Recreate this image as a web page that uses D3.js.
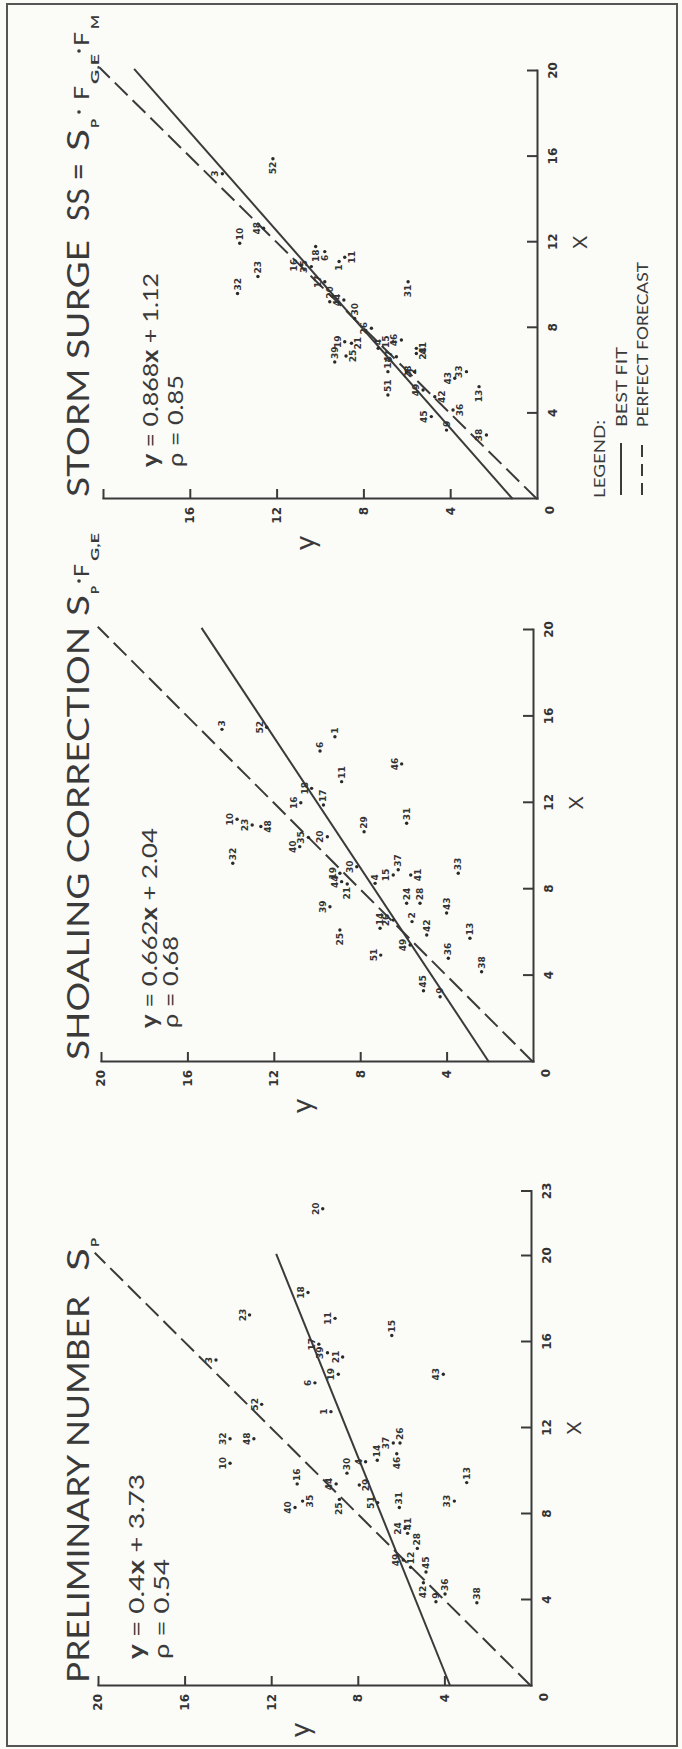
<!DOCTYPE html>
<html>
<head>
<meta charset="utf-8">
<script src="https://cdn.jsdelivr.net/npm/d3@7/dist/d3.min.js"></script>
<style>
  body { margin: 0; background: #fbfbf8; }
  svg { display: block; }
  .tick text { font-family: "DejaVu Sans", sans-serif; font-weight: bold; font-size: 12px; fill: #333; }
  .axis path, .axis line { stroke: #3a3a3a; stroke-width: 2; }
  .ttl { font-family: Lato, "Open Sans", sans-serif; fill: #3a3a3a; }
  .ptlab { font-family: "DejaVu Sans", sans-serif; font-weight: bold; font-size: 9px; fill: #333; }
</style>
</head>
<body>
<div id="chart"></div>
<script>
var prelimPoints = [
  ["3",15.16,14.55],["52",13.1,12.44],["23",17.26,13.0],["32",11.5,13.9],["48",11.5,12.8],
  ["10",10.36,13.9],["40",8.3,10.9],["35",8.6,10.55],["16",9.4,10.8],["18",18.3,10.3],
  ["11",17.1,9.05],["17",15.9,9.8],["39",15.5,9.4],["21",15.3,8.7],["19",14.5,8.9],
  ["6",14.1,9.98],["1",12.76,9.24],["15",16.3,6.43],["43",14.5,4.05],["20",22.2,9.62],
  ["37",11.3,6.36],["26",11.3,6.05],["14",10.5,7.1],["4",10.43,7.64],["46",10.8,6.2],
  ["30",9.9,8.5],["44",9.4,9.0],["29",9.35,7.93],["51",8.53,7.08],["31",8.3,6.08],
  ["25",8.68,8.85],["33",8.6,3.54],["13",9.46,2.97],["24",7.33,5.82],["41",7.1,5.7],
  ["28",6.4,5.25],["49",5.86,5.9],["12",5.52,5.56],["45",5.3,4.85],["42",4.8,4.97],
  ["9",3.92,4.39],["36",4.28,3.97],["38",3.87,2.5]
];
var shoalPoints = [
  ["3",15.4,14.4],["52",15.5,12.33],["6",14.4,9.86],["1",15.06,9.17],["46",13.8,6.08],
  ["18",12.67,10.25],["11",12.98,8.86],["17",11.9,9.7],["16",12.0,10.75],["10",11.24,13.7],
  ["23",10.97,13.0],["48",10.9,12.6],["31",11.05,5.85],["29",10.66,7.82],["40",9.97,10.8],
  ["35",10.4,10.4],["20",10.43,9.52],["32",9.2,13.9],["30",9.04,8.16],["33",8.74,3.46],
  ["19",8.74,8.94],["37",8.9,6.24],["15",8.66,6.47],["41",8.66,5.66],["4",8.27,7.31],
  ["44",8.35,8.86],["21",8.24,8.6],["24",7.35,5.85],["28",7.35,5.23],["39",7.19,9.4],
  ["43",6.9,4.0],["26",6.57,6.47],["2",6.5,5.6],["14",6.19,7.08],["42",5.88,4.92],
  ["13",5.73,2.92],["25",6.11,8.94],["49",5.42,5.69],["36",4.8,3.92],["51",4.95,7.05],
  ["38",4.18,2.38],["45",3.3,5.07],["9",3.02,4.3]
];
var surgePoints = [
  ["3",15.2,14.5],["52",15.9,12.17],["10",11.95,13.7],["48",12.65,12.6],["32",9.6,13.8],
  ["23",10.4,12.86],["18",11.8,10.2],["6",11.56,9.78],["1",11.1,9.12],["11",11.3,8.86],
  ["16",10.93,10.86],["35",10.86,10.4],["17",10.15,9.78],["20",9.22,9.55],["44",9.3,8.9],
  ["31",10.15,5.94],["30",8.44,8.4],["19",7.35,8.86],["39",6.4,9.32],["25",6.68,8.8],
  ["21",7.28,8.55],["26",7.98,7.63],["15",7.35,6.63],["4",7.04,7.32],["46",7.43,6.25],
  ["41",7.04,5.56],["24",6.8,5.56],["14",5.95,6.87],["37",6.65,6.48],["51",4.86,6.87],
  ["2",5.95,6.02],["28",5.95,5.64],["49",5.09,5.25],["42",4.78,4.71],["43",5.64,3.79],
  ["33",5.95,3.25],["13",5.25,2.67],["36",4.16,3.87],["45",3.85,4.87],["9",3.22,4.17],
  ["38",2.99,2.33]
];

// regression lines (slope, intercept) and correlation
var fitSlope = [0.4, 0.662, 0.868];
var fitIntercept = [3.73, 2.04, 1.12];
var rho = ["0.54", "0.68", "0.85"];
var titles = ["PRELIMINARY NUMBER", "SHOALING CORRECTION", "STORM SURGE"];
var xTicks = [[4, 8, 12, 16, 20, 23], [4, 8, 12, 16, 20], [4, 8, 12, 16, 20]];
var yTicks = [[4, 8, 12, 16, 20], [4, 8, 12, 16, 20], [4, 8, 12, 16]];
var xMax = [23, 20, 20];

// which side of the dot the case number sits on (t = above, default)
var side1 = {"16":"r","35":"b","15":"r","26":"r","14":"r","46":"l","30":"r","29":"b","31":"r","25":"l",
  "13":"r","41":"r","28":"r","12":"r","45":"r","42":"l","9":"r","36":"r","38":"r"};
var side2 = {"3":"r","6":"r","1":"r","11":"r","17":"r","48":"b","31":"r","29":"r","32":"r","33":"r",
  "37":"r","41":"b","4":"r","21":"l","24":"r","28":"r","43":"r","2":"r","14":"r","42":"r","13":"r",
  "25":"l","36":"r","38":"r","45":"r","9":"r"};
var side3 = {"52":"l","10":"r","32":"r","23":"r","18":"l","6":"l","1":"l","11":"b","20":"r","31":"l",
  "30":"r","39":"r","25":"b","21":"b","4":"r","41":"b","24":"b","14":"r","51":"r","2":"b","42":"b",
  "13":"l","36":"b","9":"r"};

var W = 682, H = 1749;
var svg = d3.select("#chart").append("svg")
    .attr("width", W)
    .attr("height", H);

// page border
svg.append("rect")
    .attr("x", 7).attr("y", 4)
    .attr("width", 670).attr("height", 1742)
    .attr("fill", "none")
    .attr("stroke", "#555")
    .attr("stroke-width", 2);

// the figure is a landscape sheet turned on its side
var sheet = svg.append("g").attr("transform", "translate(0," + H + ") rotate(-90)");

// panel frames in sheet coordinates: x origin, x px per unit, y origin, y px per unit
var panels = [
  {ox: 63,   sx: 21.5,  oy: 531, sy: 21.65, pts: prelimPoints, side: side1},
  {ox: 687,  sx: 21.6,  oy: 533, sy: 21.6,  pts: shoalPoints,  side: side2},
  {ox: 1250, sx: 21.4,  oy: 537, sy: 21.7,  pts: surgePoints,  side: side3}
];

panels.forEach(function(p, i) {
  var x = d3.scaleLinear().domain([0, xMax[i]]).range([p.ox, p.ox + xMax[i] * p.sx]);
  var y = d3.scaleLinear().domain([0, 20]).range([p.oy, p.oy - 20 * p.sy]);
  var g = sheet.append("g");

  g.append("g")
    .attr("class", "axis")
    .attr("transform", "translate(0," + p.oy + ")")
    .call(d3.axisBottom(x).tickValues(xTicks[i]).tickSizeInner(-10).tickSizeOuter(0).tickPadding(11));

  var ya = d3.axisLeft(y).tickValues([4, 8, 12, 16, 20])
    .tickFormat(function(d) { return yTicks[i].indexOf(d) >= 0 ? d : ""; })
    .tickSizeInner(-10).tickSizeOuter(0).tickPadding(8);
  g.append("g")
    .attr("class", "axis")
    .attr("transform", "translate(" + p.ox + ",0)")
    .call(ya);
  g.selectAll(".axis .domain").attr("stroke-linecap", "square");

  // shared zero at the corner
  g.append("text")
    .attr("x", p.ox - 11).attr("y", p.oy + 17)
    .attr("text-anchor", "middle")
    .style("font-family", "DejaVu Sans").style("font-weight", "bold").style("font-size", "12px")
    .attr("fill", "#333")
    .text("0");

  // axis names
  g.append("text")
    .attr("class", "ttl")
    .attr("x", x(12)).attr("y", p.oy + 50)
    .attr("text-anchor", "middle")
    .style("font-size", "20px")
    .text("X");
  g.append("text")
    .attr("class", "ttl")
    .attr("x", p.ox - 44).attr("y", y(10.4) + 4)
    .attr("text-anchor", "middle")
    .style("font-size", "28px")
    .text("y");

  // perfect forecast y = x
  g.append("line")
    .attr("x1", x(0)).attr("y1", y(0))
    .attr("x2", x(20.15)).attr("y2", y(20.15))
    .attr("stroke", "#3a3a3a").attr("stroke-width", 2)
    .attr("stroke-dasharray", "18,7");

  // best fit
  g.append("line")
    .attr("x1", x(0)).attr("y1", y(fitIntercept[i]))
    .attr("x2", x(20.1)).attr("y2", y(fitSlope[i] * 20.1 + fitIntercept[i]))
    .attr("stroke", "#3a3a3a").attr("stroke-width", 2);

  // points
  var pt = g.selectAll(".pt").data(p.pts).enter().append("g").attr("class", "pt");
  pt.append("circle")
    .attr("cx", function(d) { return x(d[1]); })
    .attr("cy", function(d) { return y(d[2]); })
    .attr("r", 1.7)
    .attr("fill", "#2a2a2a");
  pt.append("text")
    .attr("class", "ptlab")
    .attr("x", function(d) {
      var s = p.side[d[0]] || "t";
      if (s == "r") return x(d[1]) + 3;
      if (s == "l") return x(d[1]) - 3;
      return x(d[1]);
    })
    .attr("y", function(d) {
      var s = p.side[d[0]] || "t";
      if (s == "t") return y(d[2]) - 4;
      if (s == "b") return y(d[2]) + 10;
      return y(d[2]) + 3;
    })
    .attr("text-anchor", function(d) {
      var s = p.side[d[0]] || "t";
      return s == "r" ? "start" : (s == "l" ? "end" : "middle");
    })
    .text(function(d) { return d[0]; });
});

// titles
var tStart = [66, 689, 1252], tEnd = [453, 1122, 1509];
titles.forEach(function(t, i) {
  sheet.append("text")
    .attr("class", "ttl")
    .attr("x", tStart[i]).attr("y", 89)
    .attr("textLength", tEnd[i] - tStart[i])
    .attr("lengthAdjust", "spacingAndGlyphs")
    .style("font-size", "31px")
    .text(t);
});

function big(x, s, size, len) {
  sheet.append("text").attr("class", "ttl")
    .attr("x", x).attr("y", 89)
    .attr("textLength", len).attr("lengthAdjust", "spacingAndGlyphs")
    .style("font-size", size + "px")
    .text(s);
}
function sub(x, s, len) {
  sheet.append("text").attr("class", "ttl")
    .attr("x", x).attr("y", 99)
    .attr("textLength", len).attr("lengthAdjust", "spacingAndGlyphs")
    .style("font-size", "12px").style("font-weight", "bold")
    .text(s);
}
function dot(x) {
  sheet.append("circle").attr("cx", x).attr("cy", 79).attr("r", 1.8).attr("fill", "#3a3a3a");
}
// Sp
big(478, "S", 31, 23); sub(502, "P", 9);
// Sp . F G,E
big(1133, "S", 31, 21); sub(1155, "P", 8); dot(1168); big(1172, "F", 21, 13); sub(1188, "G,E", 28);
// SS = Sp . F G,E . F M
sheet.append("text").attr("class", "ttl")
  .attr("x", 1528).attr("y", 89)
  .attr("textLength", 58).attr("lengthAdjust", "spacingAndGlyphs")
  .style("font-size", "31px").text("SS =");
big(1598, "S", 31, 22); sub(1621, "P", 9); dot(1637); big(1649, "F", 21, 14); sub(1665, "G,E", 30);
dot(1698); big(1703, "F", 21, 14); sub(1720, "M", 14);

// equations
var eqX = [90, 721, 1282];
var eqY1 = [144, 157, 158], eqY2 = [169, 178, 183];
var eqLen1 = [185, 200, 194], eqLen2 = [100, 92, 92];
panels.forEach(function(p, i) {
  var t1 = sheet.append("text").attr("class", "ttl")
    .attr("x", eqX[i]).attr("y", eqY1[i])
    .attr("textLength", eqLen1[i]).attr("lengthAdjust", "spacingAndGlyphs")
    .style("font-size", "22px");
  t1.append("tspan").style("font-weight", "bold").text("y");
  t1.append("tspan").text(" = " + fitSlope[i]);
  t1.append("tspan").style("font-weight", "bold").text("x");
  t1.append("tspan").text(" + " + fitIntercept[i].toFixed(2));
  sheet.append("text").attr("class", "ttl")
    .attr("x", eqX[i]).attr("y", eqY2[i])
    .attr("textLength", eqLen2[i]).attr("lengthAdjust", "spacingAndGlyphs")
    .style("font-size", "22px")
    .text("\u03c1 = " + rho[i]);
});

// legend
var lg = sheet.append("g").attr("class", "ttl").style("font-size", "15px");
lg.append("text").attr("x", 1251).attr("y", 605)
  .attr("textLength", 78).attr("lengthAdjust", "spacingAndGlyphs").text("LEGEND:");
lg.append("line").attr("x1", 1254).attr("x2", 1306).attr("y1", 621).attr("y2", 621)
  .attr("stroke", "#3a3a3a").attr("stroke-width", 2);
lg.append("line").attr("x1", 1254).attr("x2", 1306).attr("y1", 642).attr("y2", 642)
  .attr("stroke", "#3a3a3a").attr("stroke-width", 2).attr("stroke-dasharray", "12,7");
lg.append("text").attr("x", 1322).attr("y", 627)
  .attr("textLength", 80).attr("lengthAdjust", "spacingAndGlyphs").text("BEST FIT");
lg.append("text").attr("x", 1322).attr("y", 648)
  .attr("textLength", 165).attr("lengthAdjust", "spacingAndGlyphs").text("PERFECT FORECAST");
</script>
</body>
</html>
